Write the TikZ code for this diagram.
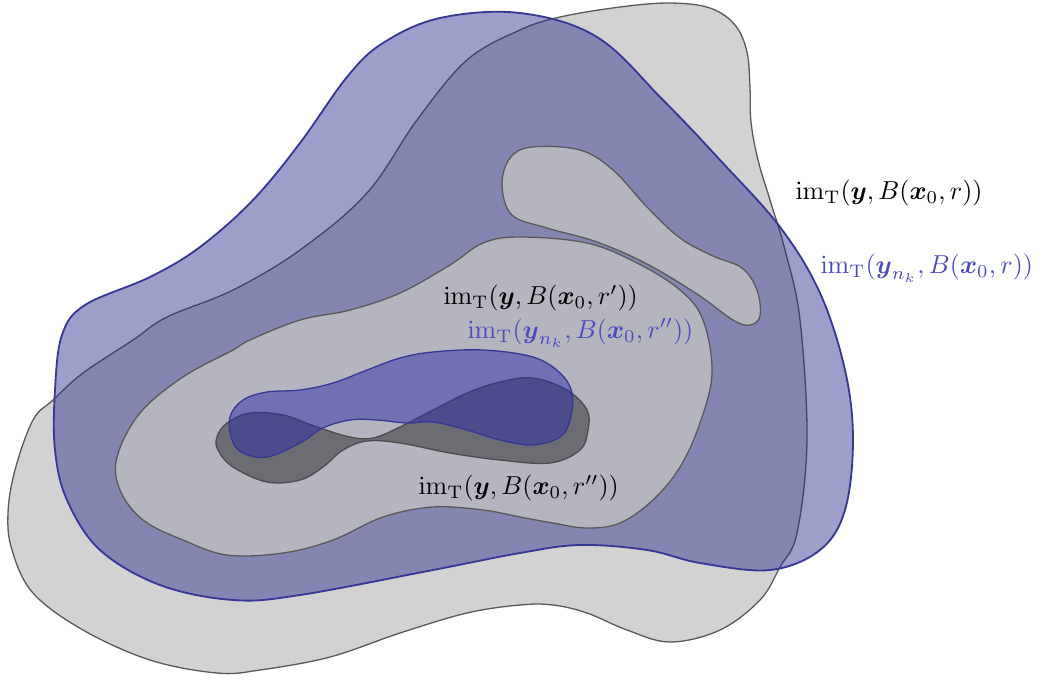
\documentclass[tikz,border=0pt]{standalone}
\usepackage{amsmath}
\usepackage{amssymb}
\begin{document}
\begin{tikzpicture}[x=0.385pt,y=-0.385pt,
  blobfill/.style={fill=blobblue,fill opacity=0.45,draw=edgeblue,line width=0.7pt,draw opacity=1},
  innerblue/.style={fill=innerfill,fill opacity=0.5,draw=edgeblue,line width=0.5pt},
  lightgray/.style={fill=gray!35,draw=black!65,line width=0.5pt},
  midgray/.style={fill=gray!45,fill opacity=0.75,draw=black!65,line width=0.5pt},
  darkgray/.style={fill=black,fill opacity=0.4,draw=black!70,line width=0.5pt},
  lab/.style={inner sep=0pt,anchor=west},
  labb/.style={inner sep=0pt,anchor=west,text=labelblue}]
\definecolor{blobblue}{RGB}{40,40,140}
\definecolor{innerfill}{RGB}{45,45,165}
\definecolor{edgeblue}{RGB}{55,55,150}
\definecolor{labelblue}{RGB}{75,75,190}
\useasboundingbox (0,0) rectangle (1042,682);
% outer gray
\draw[lightgray] plot[smooth cycle,tension=0.6] coordinates {
(560,17) (620,7) (670,3) (710,8) (735,25) (747,52) (750,88) (751,122)
(758,160) (770,200) (785,250) (800,320) (807,440) (797,533) (780,567) (760,600)
(720,630) (670,642) (627,630) (587,613) (553,605) (520,605) (467,613)
(400,633) (330,657) (260,670) (217,673) (150,660) (83,630) (33,593)
(12,550) (8,513) (15,470) (33,420) (53,400) (83,373) (133,340) (167,317)
(233,290) (300,250) (367,193) (417,120) (467,60) (520,30)};
% outer blue
\draw[blobfill] plot[smooth cycle,tension=0.6] coordinates {
(55,390) (62,335) (85,305) (150,277) (200,247) (253,200) (300,143)
(347,77) (383,43) (440,18) (520,13) (597,37) (663,100) (720,160)
(780,227) (820,293) (845,370) (853,440) (845,510) (820,550) (770,570)
(700,563) (647,550) (580,545) (520,553) (433,570) (300,595) (233,600)
(160,585) (100,550) (67,500) (55,450)};
% middle gray
\draw[midgray] plot[smooth cycle,tension=0.6] coordinates {
(250,340) (300,320) (350,310) (400,293) (450,265) (483,243) (520,237)
(587,243) (637,263) (680,290) (703,320) (712,373) (700,423) (680,467)
(653,500) (620,523) (587,528) (553,523) (520,517) (483,510) (433,507)
(383,517) (333,540) (283,553) (227,555) (183,540) (143,520) (120,490)
(117,457) (140,413) (183,377) (233,350)};
% finger
\draw[midgray] plot[smooth cycle,tension=0.6] coordinates {
(502,185) (510,158) (532,147) (580,150) (613,170) (647,207) (680,238)
(713,256) (742,268) (757,290) (760,316) (750,325) (733,320) (697,294)
(647,264) (597,242) (547,228) (512,215)};
% dark gray
\draw[darkgray] plot[smooth cycle,tension=0.6] coordinates {
(217,437) (227,423) (250,413) (283,415) (317,427) (350,437) (373,438)
(400,427) (433,410) (467,393) (500,382) (533,378) (567,390) (587,410)
(588,430) (580,450) (550,463) (500,460) (450,453) (400,443) (367,441)
(343,450) (323,467) (300,480) (267,482) (233,467) (218,450)};
% inner blue
\draw[innerblue] plot[smooth cycle,tension=0.6] coordinates {
(230,417) (243,400) (267,392) (300,390) (333,383) (367,370) (400,358)
(433,352) (483,350) (533,357) (560,373) (572,393) (570,420) (560,437)
(533,445) (500,440) (467,430) (433,422) (407,423) (377,420) (350,420)
(323,428) (300,443) (267,457) (243,453) (232,440)};
% labels
\node[lab]  (l1) at (795,193) {$\mathrm{im}_{\mathrm{T}}(\boldsymbol{y},B(\boldsymbol{x}_0,r))$};
\node[labb] (l2) at (820,268) {$\mathrm{im}_{\mathrm{T}}(\boldsymbol{y}_{n_k},B(\boldsymbol{x}_0,r))$};
\node[lab]  (l3) at (443,298) {$\mathrm{im}_{\mathrm{T}}(\boldsymbol{y},B(\boldsymbol{x}_0,r'))$};
\node[labb] (l4) at (467,333) {$\mathrm{im}_{\mathrm{T}}(\boldsymbol{y}_{n_k},B(\boldsymbol{x}_0,r''))$};
\node[lab]  (l5) at (418,488) {$\mathrm{im}_{\mathrm{T}}(\boldsymbol{y},B(\boldsymbol{x}_0,r''))$};
\end{tikzpicture}
\end{document}
